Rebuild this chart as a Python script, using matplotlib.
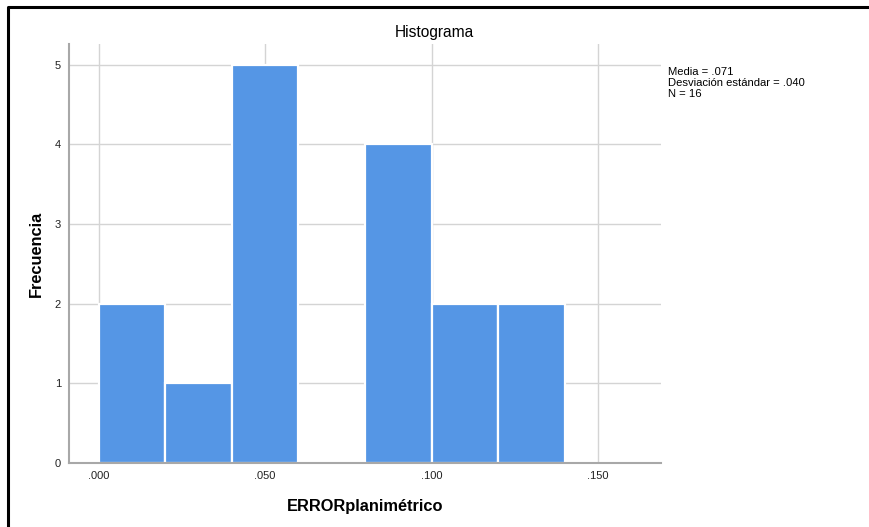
import matplotlib
matplotlib.use('Agg')
import matplotlib.pyplot as plt
from matplotlib.lines import Line2D

plt.rcParams['font.family'] = ['Liberation Sans', 'DejaVu Sans']

# histogram data (bin edges + counts)
bin_edges = [0.00, 0.02, 0.04, 0.06, 0.08, 0.10, 0.12, 0.14]
counts = [2, 1, 5, 0, 4, 2, 2]
x_ticks = [0.0, 0.05, 0.10, 0.15]
x_tick_labels = ['.000', '.050', '.100', '.150']
y_ticks = [0, 1, 2, 3, 4, 5]
stats_text = 'Media = .071\nDesviación estándar = .040\nN = 16'

fig = plt.figure(figsize=(8.69, 5.27), dpi=100)
ax = fig.add_axes([0.0797, 0.1214, 0.681, 0.7951])

lefts = bin_edges[:-1]
widths = [bin_edges[i + 1] - bin_edges[i] for i in range(len(counts))]
ax.bar(lefts, counts, width=widths, align='edge', color='#5596e5',
       edgecolor='white', linewidth=1.6, zorder=3)

ax.set_xlim(-0.00883, 0.1689)
ax.set_ylim(0, 5.26)
ax.set_xticks(x_ticks)
ax.set_xticklabels(x_tick_labels)
ax.set_yticks(y_ticks)
ax.tick_params(length=0, labelsize=8, colors='#222222', pad=6)
ax.grid(True, color='#d4d4d4', linewidth=1, zorder=0)

for s in ['top', 'right']:
    ax.spines[s].set_visible(False)
for s in ['left', 'bottom']:
    ax.spines[s].set_color('#a8a8a8')
    ax.spines[s].set_linewidth(1.5)
    ax.spines[s].set_zorder(4)

ax.set_xlabel('ERRORplanimétrico', fontsize=11.8, fontweight='bold', labelpad=13)
ax.set_ylabel('Frecuencia', fontsize=11.8, fontweight='bold', labelpad=8)
fig.text(0.4995, 1 - 32 / 527, 'Histograma', ha='center', va='center', fontsize=11.2)
fig.text(668 / 869, 1 - 67 / 527, stats_text, ha='left', va='top',
         fontsize=8.1, linespacing=1.12)

# frame lines at top and left
fig.add_artist(Line2D([8 / 869, 8 / 869, 1], [0, 1 - 6.5 / 527, 1 - 6.5 / 527],
                      transform=fig.transFigure, color='black', linewidth=2.2))

fig.savefig('out.png', dpi=100)
